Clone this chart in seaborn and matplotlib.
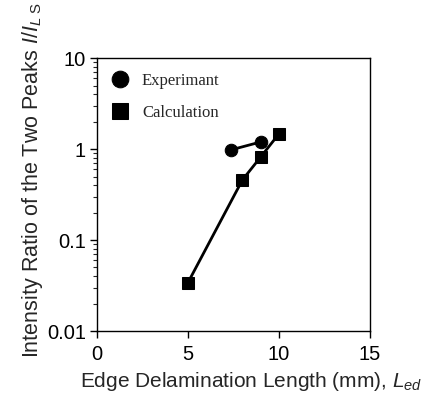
import matplotlib
matplotlib.use("Agg")
import matplotlib.pyplot as plt
import seaborn as sns
import pandas as pd
from matplotlib.ticker import LogLocator, NullFormatter, FixedLocator

exp_x = [7.35, 9.0]
exp_y = [0.98, 1.2]
calc_x = [5.0, 8.0, 9.0, 10.0]
calc_y = [0.034, 0.46, 0.82, 1.47]
x_ticks = [0, 5, 10, 15]
y_ticks = [0.01, 0.1, 1, 10]
y_ticklabels = ["0.01", "0.1", "1", "10"]

sns.set_style("ticks")
plt.rcParams['font.family'] = ['Liberation Sans', 'DejaVu Sans']
plt.rcParams['mathtext.fontset'] = 'custom'
plt.rcParams['mathtext.it'] = 'Liberation Sans:italic'
plt.rcParams['mathtext.rm'] = 'Liberation Sans'

fig = plt.figure(figsize=(4.31, 3.96), dpi=100)
ax = fig.add_axes([0.225, 0.164, 0.633, 0.689])

df_exp = pd.DataFrame({"x": exp_x, "y": exp_y})
df_calc = pd.DataFrame({"x": calc_x, "y": calc_y})
sns.lineplot(data=df_exp, x="x", y="y", ax=ax, color="black", lw=2.0,
             marker="o", markersize=9, markeredgecolor="black", label="Experimant")
sns.lineplot(data=df_calc, x="x", y="y", ax=ax, color="black", lw=2.0,
             marker="s", markersize=9, markeredgecolor="black", label="Calculation")

ax.set_yscale("log")
ax.set_xlim(0, 15)
ax.set_ylim(0.01, 10)
ax.xaxis.set_major_locator(FixedLocator(x_ticks))
ax.set_yticks(y_ticks)
ax.set_yticklabels(y_ticklabels)
ax.yaxis.set_minor_locator(LogLocator(base=10, subs=range(2, 10)))
ax.yaxis.set_minor_formatter(NullFormatter())
ax.tick_params(axis="both", which="major", direction="out", length=5, width=1,
               labelsize=14.5, colors="black")
ax.tick_params(axis="x", which="major", pad=5)
ax.tick_params(axis="y", which="major", pad=3)
ax.tick_params(axis="y", which="minor", direction="out", length=3, width=0.8)
for s in ax.spines.values():
    s.set_linewidth(1.0)
    s.set_color("black")

ax.set_xlabel(r"Edge Delamination Length (mm), $L_{ed}$", fontsize=15, labelpad=4.5)
ax.set_ylabel(r"Intensity Ratio of the Two Peaks $I/I_{L\ \mathrm{S}}$", fontsize=15.5, labelpad=1)
ax.xaxis.label.set_x(0.565)
ax.yaxis.label.set_y(0.555)

leg = ax.legend(loc="upper left", frameon=False, prop={"family": "Liberation Serif", "size": 12},
                handlelength=1.0, handletextpad=0.8, labelspacing=0.95,
                borderaxespad=0.3, borderpad=0.6)
for h in leg.legend_handles:
    h.set_linestyle("none")
    h.set_markersize(12)

fig.savefig("out.png", dpi=100)
